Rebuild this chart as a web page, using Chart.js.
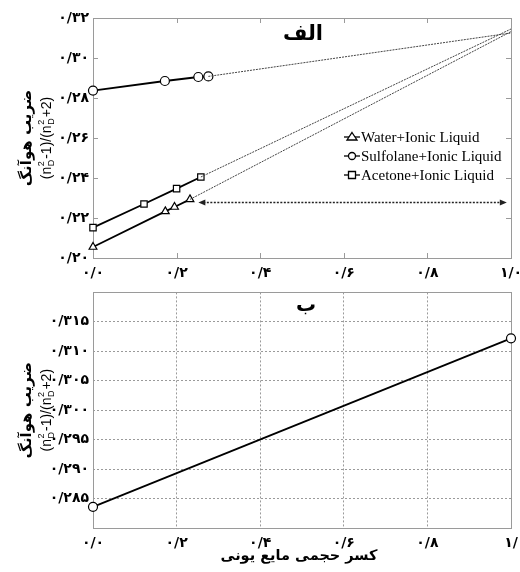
<!DOCTYPE html>
<html>
<head>
<meta charset="utf-8">
<script src="https://cdn.jsdelivr.net/npm/chart.js@4.4.0/dist/chart.umd.min.js"></script>
<style>
  body { margin: 0; background: #fff; }
  #wrap { position: relative; width: 520px; height: 572px; }
  canvas { position: absolute; left: 0; }
</style>
</head>
<body>
<div id="wrap">
  <canvas id="chartA" width="520" height="290" style="top:0"></canvas>
  <canvas id="chartB" width="520" height="292" style="top:280px"></canvas>
</div>
<script>
// panel "alef": measured points (volume fraction of ionic liquid, Huang coefficient)
var waterX = [0, 0.173, 0.195, 0.232];
var waterY = [0.2055, 0.2233, 0.2255, 0.2293];
var sulfolaneX = [0, 0.172, 0.252, 0.276];
var sulfolaneY = [0.2837, 0.2885, 0.2905, 0.2908];
var acetoneX = [0, 0.122, 0.2, 0.258];
var acetoneY = [0.2152, 0.227, 0.2347, 0.2405];
// extrapolated end values at x = 1
var waterEnd = 0.3132;
var sulfolaneEnd = 0.3125;
var acetoneEnd = 0.3145;
// double arrow
var arrowY = 0.2277;
var arrowX = [0.252, 0.99];

// panel "be"
var lineBX = [0, 1];
var lineBY = [0.2836, 0.3122];

var seriesNames = ["Water+Ionic Liquid", "Sulfolane+Ionic Liquid", "Acetone+Ionic Liquid"];
var xTicksA = [0, 0.2, 0.4, 0.6, 0.8, 1.0];
var yTicksA = [0.20, 0.22, 0.24, 0.26, 0.28, 0.30, 0.32];
var yTicksB = [0.285, 0.290, 0.295, 0.300, 0.305, 0.310, 0.315];

var faDigits = '۰۱۲۳۴۵۶۷۸۹';
function faNum(v, dec) {
  return v.toFixed(dec).replace('.', '/').replace(/[0-9]/g, function (d) { return faDigits[+d]; });
}
function pts(xs, ys) {
  return xs.map(function (x, i) { return { x: x, y: ys[i] }; });
}
function near(v, list) {
  return list.some(function (t) { return Math.abs(t - v) < 1e-6; });
}

var tickFont = { family: 'DejaVu Sans', size: 14, weight: 'bold' };

// frame around plot area
var framePlugin = {
  id: 'frame',
  beforeDatasetsDraw: function (chart) {
    var a = chart.chartArea, ctx = chart.ctx;
    ctx.save();
    ctx.strokeStyle = '#9a9a9a';
    ctx.lineWidth = 1;
    ctx.strokeRect(Math.round(a.left) + 0.5, Math.round(a.top) + 0.5,
      Math.round(a.right - a.left), Math.round(a.bottom - a.top));
    ctx.restore();
  }
};

// small tick marks pointing inwards (panel alef)
var innerTicks = {
  id: 'innerTicks',
  beforeDatasetsDraw: function (chart) {
    var a = chart.chartArea, ctx = chart.ctx;
    var sx = chart.scales.x, sy = chart.scales.y;
    ctx.save();
    ctx.strokeStyle = '#9a9a9a';
    ctx.lineWidth = 1;
    ctx.beginPath();
    xTicksA.forEach(function (v) {
      var px = Math.round(sx.getPixelForValue(v)) + 0.5;
      ctx.moveTo(px, a.bottom); ctx.lineTo(px, a.bottom - 5);
      ctx.moveTo(px, a.top); ctx.lineTo(px, a.top + 5);
    });
    yTicksA.forEach(function (v) {
      var py = Math.round(sy.getPixelForValue(v)) + 0.5;
      ctx.moveTo(a.left, py); ctx.lineTo(a.left + 5, py);
      ctx.moveTo(a.right, py); ctx.lineTo(a.right - 5, py);
    });
    ctx.stroke();
    ctx.restore();
  }
};

// rotated y title: persian line + formula with sub/superscripts
function drawYTitle(ctx, cy) {
  ctx.save();
  ctx.fillStyle = '#000';
  ctx.textBaseline = 'middle';
  ctx.textAlign = 'center';
  ctx.translate(27, cy);
  ctx.rotate(-Math.PI / 2);
  ctx.font = 'bold 15px "DejaVu Sans"';
  ctx.fillText('ضریب هوآنگ', 0, 0);
  ctx.restore();

  ctx.save();
  ctx.fillStyle = '#000';
  ctx.textBaseline = 'alphabetic';
  ctx.textAlign = 'left';
  ctx.translate(51, cy);
  ctx.rotate(-Math.PI / 2);
  var big = '14px "Liberation Sans"', small = '9px "Liberation Sans"';
  var parts = [['(n'], ['2', 'D'], ['-1)/(n'], ['2', 'D'], ['+2)']];
  var widths = parts.map(function (p) {
    ctx.font = p.length === 1 ? big : small;
    return p.length === 1 ? ctx.measureText(p[0]).width
      : Math.max(ctx.measureText(p[0]).width, ctx.measureText(p[1]).width) + 1.5;
  });
  var total = widths.reduce(function (s, w) { return s + w; }, 0);
  var x = -total / 2;
  parts.forEach(function (p, i) {
    if (p.length === 1) {
      ctx.font = big;
      ctx.fillText(p[0], x, 0);
    } else {
      ctx.font = small;
      ctx.fillText(p[0], x + 0.5, -7);
      ctx.fillText(p[1], x + 0.5, 3);
    }
    x += widths[i];
  });
  ctx.restore();
}

var labelsA = {
  id: 'labelsA',
  afterDatasetsDraw: function (chart) {
    var ctx = chart.ctx, a = chart.chartArea;
    var sx = chart.scales.x, sy = chart.scales.y;
    // dotted double arrow
    var ay = sy.getPixelForValue(arrowY);
    var x0 = sx.getPixelForValue(arrowX[0]), x1 = sx.getPixelForValue(arrowX[1]);
    ctx.save();
    ctx.strokeStyle = '#222';
    ctx.fillStyle = '#222';
    ctx.lineWidth = 1.5;
    ctx.setLineDash([2, 1.5]);
    ctx.beginPath();
    ctx.moveTo(x0 + 5, ay); ctx.lineTo(x1 - 5, ay);
    ctx.stroke();
    ctx.setLineDash([]);
    ctx.beginPath();
    ctx.moveTo(x0, ay); ctx.lineTo(x0 + 7, ay - 3); ctx.lineTo(x0 + 7, ay + 3); ctx.closePath();
    ctx.moveTo(x1, ay); ctx.lineTo(x1 - 7, ay - 3); ctx.lineTo(x1 - 7, ay + 3); ctx.closePath();
    ctx.fill();
    ctx.restore();

    // legend
    ctx.save();
    ctx.font = '15px "Liberation Serif"';
    ctx.fillStyle = '#000';
    ctx.strokeStyle = '#000';
    ctx.textBaseline = 'middle';
    var shapes = ['triangle', 'circle', 'rect'];
    var rowY = [137, 156, 175];
    shapes.forEach(function (s, i) {
      var cx = 352, cy = rowY[i];
      ctx.lineWidth = 1.3;
      ctx.beginPath(); ctx.moveTo(344, cy); ctx.lineTo(360, cy); ctx.stroke();
      ctx.fillStyle = '#fff';
      ctx.beginPath();
      if (s === 'triangle') {
        ctx.moveTo(cx, cy - 4.5); ctx.lineTo(cx + 5, cy + 3); ctx.lineTo(cx - 5, cy + 3); ctx.closePath();
      } else if (s === 'circle') {
        ctx.arc(cx, cy, 3.5, 0, Math.PI * 2);
      } else {
        ctx.rect(cx - 3.5, cy - 3.5, 7, 7);
      }
      ctx.fill(); ctx.stroke();
      ctx.fillStyle = '#000';
      ctx.fillText(seriesNames[i], 361, cy + 1);
    });
    ctx.restore();

    // panel label and axis title
    ctx.save();
    ctx.fillStyle = '#000';
    ctx.font = 'bold 21px "DejaVu Sans"';
    ctx.textAlign = 'center';
    ctx.textBaseline = 'middle';
    ctx.fillText('الف', 303, 35);
    ctx.restore();
    drawYTitle(ctx, (a.top + a.bottom) / 2);
  }
};

var labelsB = {
  id: 'labelsB',
  afterDatasetsDraw: function (chart) {
    var ctx = chart.ctx, a = chart.chartArea;
    ctx.save();
    ctx.fillStyle = '#000';
    ctx.textAlign = 'center';
    ctx.textBaseline = 'middle';
    ctx.font = 'bold 20px "DejaVu Sans"';
    ctx.fillText('ب', 306, 26);
    ctx.font = 'bold 14.5px "DejaVu Sans"';
    ctx.fillText('کسر حجمی مایع یونی', 299, 276);
    ctx.restore();
    drawYTitle(ctx, (a.top + a.bottom) / 2);
  }
};

var solid = { borderColor: '#000', borderWidth: 1.8, pointRadius: 4.5, pointBorderWidth: 1.2,
  pointBackgroundColor: '#fff', pointBorderColor: '#000', showLine: true, clip: false };
var dotted = { borderColor: '#444', borderWidth: 1, borderDash: [2, 1], pointRadius: 0,
  showLine: true, clip: false };

new Chart(document.getElementById('chartA'), {
  type: 'scatter',
  data: {
    datasets: [
      Object.assign({ label: seriesNames[0], data: [{ x: waterX[3], y: waterY[3] }, { x: 1, y: waterEnd }] }, dotted),
      Object.assign({ label: seriesNames[1], data: [{ x: sulfolaneX[3], y: sulfolaneY[3] }, { x: 1, y: sulfolaneEnd }] }, dotted),
      Object.assign({ label: seriesNames[2], data: [{ x: acetoneX[3], y: acetoneY[3] }, { x: 1, y: acetoneEnd }] }, dotted),
      Object.assign({ label: seriesNames[0], data: pts(waterX, waterY), pointStyle: 'triangle', pointRadius: 5.5 }, solid),
      Object.assign({ label: seriesNames[1], data: pts(sulfolaneX, sulfolaneY), pointStyle: 'circle' }, solid),
      Object.assign({ label: seriesNames[2], data: pts(acetoneX, acetoneY), pointStyle: 'rect', pointRadius: 5 }, solid)
    ]
  },
  options: {
    responsive: false,
    animation: false,
    devicePixelRatio: 1,
    layout: { padding: { top: 18, right: 9, left: 0, bottom: 0 } },
    plugins: { legend: { display: false }, tooltip: { enabled: false } },
    scales: {
      x: {
        type: 'linear', min: 0, max: 1,
        afterFit: function (s) { s.height = 32; s.paddingLeft = 0; s.paddingRight = 0; },
        afterBuildTicks: function (s) { s.ticks = xTicksA.map(function (v) { return { value: v }; }); },
        grid: { display: false, drawTicks: false },
        border: { display: false },
        ticks: { font: tickFont, color: '#000', padding: 7, maxRotation: 0,
          callback: function (v) { return faNum(v, 1); } }
      },
      y: {
        type: 'linear', min: 0.20, max: 0.32,
        afterFit: function (s) { s.width = 93; },
        afterBuildTicks: function (s) { s.ticks = yTicksA.map(function (v) { return { value: v }; }); },
        grid: { display: false, drawTicks: false },
        border: { display: false },
        ticks: { font: tickFont, color: '#000', padding: 4,
          callback: function (v) { return faNum(v, 2); } }
      }
    }
  },
  plugins: [framePlugin, innerTicks, labelsA]
});

new Chart(document.getElementById('chartB'), {
  type: 'scatter',
  data: {
    datasets: [
      Object.assign({ label: 'Ionic Liquid', data: pts(lineBX, lineBY), pointStyle: 'circle', pointRadius: 4 }, solid)
    ]
  },
  options: {
    responsive: false,
    animation: false,
    devicePixelRatio: 1,
    layout: { padding: { top: 8, right: 9, left: 0, bottom: 0 } },
    plugins: { legend: { display: false }, tooltip: { enabled: false } },
    scales: {
      x: {
        type: 'linear', min: 0, max: 1,
        afterFit: function (s) { s.height = 44; s.paddingLeft = 0; s.paddingRight = 0; },
        afterBuildTicks: function (s) { s.ticks = xTicksA.map(function (v) { return { value: v }; }); },
        grid: { color: '#9a9a9a', lineWidth: 1, drawTicks: false },
        border: { display: false, dash: [2, 2] },
        ticks: { font: tickFont, color: '#000', padding: 7, maxRotation: 0,
          callback: function (v) { return v === 1 ? '۱/' : faNum(v, 1); } }
      },
      y: {
        type: 'linear', min: 0.28, max: 0.32,
        afterFit: function (s) { s.width = 93; },
        afterBuildTicks: function (s) {
          var t = [{ value: 0.28 }].concat(yTicksB.map(function (v) { return { value: v }; }), [{ value: 0.32 }]);
          s.ticks = t;
        },
        grid: { color: '#9a9a9a', lineWidth: 1, drawTicks: false },
        border: { display: false, dash: [2, 2] },
        ticks: { font: tickFont, color: '#000', padding: 4,
          callback: function (v) { return near(v, yTicksB) ? faNum(v, 3) : ''; } }
      }
    }
  },
  plugins: [framePlugin, labelsB]
});
</script>
</body>
</html>
